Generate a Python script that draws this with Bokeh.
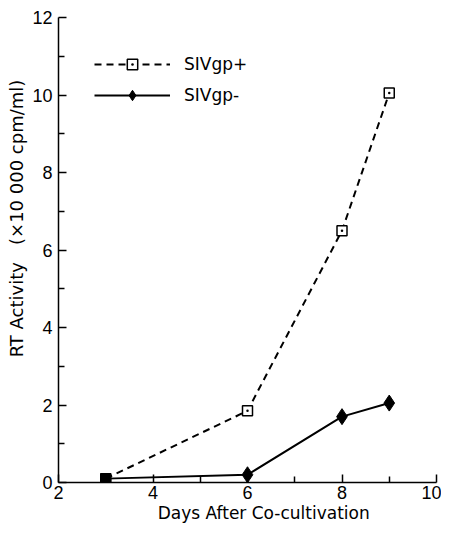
from bokeh.plotting import figure
from bokeh.models import ColumnDataSource, Legend, LegendItem, FixedTicker
from bokeh.embed import file_html
from bokeh.resources import INLINE

days = [3, 6, 8, 9]
siv_plus = [0.1, 1.85, 6.5, 10.05]
siv_minus = [0.1, 0.2, 1.7, 2.05]
x_ticks = [2, 4, 6, 8, 10]
y_ticks = [0, 2, 4, 6, 8, 10, 12]
x_title = "Days After Co-cultivation"
y_title_a = "RT Activity"
y_title_b = "(\u00d710 000 cpm/ml)"

FONT = "DejaVu Sans"
NUMFONT = "Liberation Sans"
NB = "\u00a0"

p = figure(width=441, height=525, x_range=(2, 10), y_range=(0, 12),
           output_backend="svg", toolbar_location=None,
           min_border_left=58, min_border_right=5, min_border_top=17, min_border_bottom=43)
p.outline_line_color = None
p.grid.visible = False
p.background_fill_color = "white"

for ax in (p.xaxis[0], p.yaxis[0]):
    ax.axis_line_color = "black"
    ax.axis_line_width = 1.5
    ax.major_tick_in = 8
    ax.major_tick_out = 0
    ax.minor_tick_in = 6
    ax.minor_tick_out = 0
    ax.major_tick_line_width = 1.5
    ax.minor_tick_line_width = 1.5
    ax.major_label_text_font = NUMFONT
    ax.major_label_text_font_size = "18px"
    ax.major_label_text_color = "black"
    ax.axis_label_text_font = FONT
    ax.axis_label_text_font_style = "normal"
    ax.axis_label_text_color = "black"

p.xaxis.ticker = FixedTicker(ticks=x_ticks, minor_ticks=[3, 5, 7, 9])
p.yaxis.ticker = FixedTicker(ticks=y_ticks, minor_ticks=[1, 3, 5, 7, 9, 11])
p.xaxis.axis_label = NB * 6 + x_title
p.yaxis.axis_label = NB * 11 + y_title_a + NB * 3 + y_title_b
p.xaxis.axis_label_text_font_size = "17px"
p.yaxis.axis_label_text_font_size = "18px"
p.xaxis.major_label_standoff = 3
p.yaxis.major_label_standoff = 6
p.yaxis.axis_label_standoff = 2
p.xaxis.axis_label_standoff = 1

src_p = ColumnDataSource(dict(x=days, y=siv_plus))
src_m = ColumnDataSource(dict(x=days, y=siv_minus))

l1 = p.line("x", "y", source=src_p, line_color="black", line_width=2, line_dash="7 5")
s1 = p.scatter("x", "y", source=src_p, marker="square_dot", size=10,
               fill_color="white", line_color="black", line_width=1.5)
l2 = p.line("x", "y", source=src_m, line_color="black", line_width=2)
markers = ["square"] + ["diamond"] * (len(days) - 1)
sizes = [10] + [16] * (len(days) - 1)
src_m.data["marker"] = markers
src_m.data["size"] = sizes
s2 = p.scatter("x", "y", source=src_m, marker="marker", size="size",
               fill_color="black", line_color="black")

legend = Legend(items=[LegendItem(label="SIVgp+", renderers=[l1, s1], index=1),
                       LegendItem(label="SIVgp-", renderers=[l2, s2], index=1)],
                location=(36, 374), glyph_width=76, glyph_height=26, spacing=5,
                label_text_font=FONT, label_text_font_size="17px", label_text_color="black",
                label_standoff=14, border_line_alpha=0, background_fill_alpha=0,
                padding=0, margin=0)
p.add_layout(legend, "center")

open("out.html", "w").write(file_html(p, INLINE))
